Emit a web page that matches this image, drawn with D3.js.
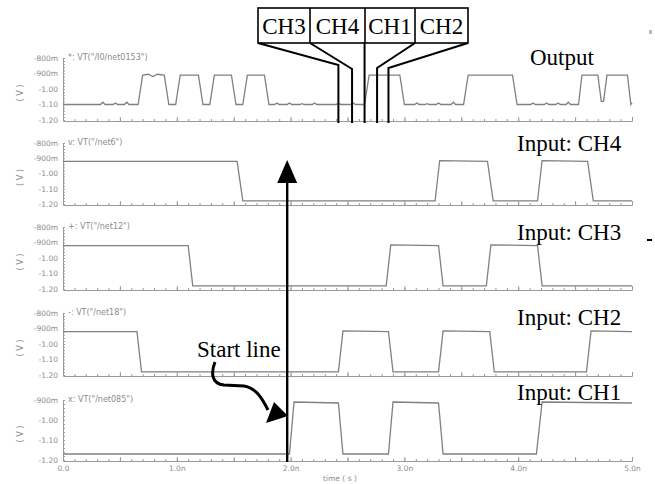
<!DOCTYPE html>
<html>
<head>
<meta charset="utf-8">
<script src="https://cdn.jsdelivr.net/npm/d3@7"></script>
<style>
  body { margin: 0; background: #fff; }
  svg { display: block; }
  .tick text { fill: #8c8c8c; font-family: "DejaVu Sans", sans-serif; font-size: 7.5px; }
  .tick line { stroke: #9a9a9a; }
  .gray { fill: #8c8c8c; font-family: "DejaVu Sans", sans-serif; font-size: 8px; }
  .note { font-family: "Liberation Serif", "Times New Roman", serif; font-size: 23px; fill: #000; }
</style>
</head>
<body>
<div id="chart"></div>
<script>
// time axis (ns) and voltage ticks
var timeTicks = [0, 1, 2, 3, 4, 5];
var timeLabels = ["0.0", "1.0n", "2.0n", "3.0n", "4.0n", "5.0n"];
var voltTicks = [-0.8, -0.9, -1.0, -1.1, -1.2];
var voltLabels = ["-800m", "-900m", "-1.00", "-1.10", "-1.20"];

var traceNames = ['*:  VT("/I0/net0153")', 'v:  VT("/net6")', '+:  VT("/net12")', '-:  VT("/net18")', 'x:  VT("/net085")'];
var traceTitles = ["Output", "Input: CH4", "Input: CH3", "Input: CH2", "Input: CH1"];

// waveforms, [time ns, volts]
var outV = [[0,-1.10],[0.33,-1.10],[0.35,-1.085],[0.37,-1.10],[0.44,-1.10],[0.46,-1.09],[0.48,-1.10],
  [0.54,-1.10],[0.56,-1.085],[0.58,-1.10],[0.66,-1.10],[0.70,-0.91],[0.75,-0.905],[0.79,-0.92],[0.83,-0.905],
  [0.89,-0.91],[0.93,-1.10],[0.99,-1.10],[1.03,-0.91],[1.19,-0.91],[1.23,-1.10],[1.29,-1.10],[1.33,-0.91],
  [1.48,-0.91],[1.52,-1.10],[1.58,-1.10],[1.62,-0.91],[1.77,-0.91],[1.81,-1.10],[1.86,-1.10],[1.88,-1.09],
  [1.90,-1.10],[1.97,-1.10],[1.99,-1.09],[2.01,-1.10],[2.08,-1.10],[2.10,-1.095],[2.12,-1.10],[2.19,-1.10],
  [2.21,-1.09],[2.23,-1.10],[2.40,-1.10],[2.42,-1.09],[2.44,-1.10],[2.53,-1.10],[2.55,-1.09],[2.57,-1.10],
  [2.65,-1.10],[2.69,-0.91],[2.96,-0.91],[3.00,-1.10],[3.09,-1.10],[3.11,-1.09],[3.13,-1.10],[3.18,-1.10],
  [3.20,-1.095],[3.22,-1.10],[3.28,-1.10],[3.30,-1.09],[3.32,-1.10],[3.41,-1.10],[3.43,-1.085],[3.45,-1.10],
  [3.52,-1.10],[3.56,-0.91],[3.95,-0.91],[3.99,-1.10],[4.11,-1.10],[4.13,-1.09],[4.15,-1.10],[4.23,-1.10],
  [4.25,-1.09],[4.27,-1.10],[4.33,-1.10],[4.35,-1.09],[4.37,-1.10],[4.42,-1.10],[4.44,-1.085],[4.46,-1.10],
  [4.53,-1.10],[4.56,-0.91],[4.70,-0.91],[4.73,-1.08],[4.75,-1.08],[4.78,-0.91],[4.96,-0.91],[4.99,-1.10],[5,-1.09]];
var ch4V = [[0,-0.92],[1.53,-0.92],[1.58,-1.18],[3.27,-1.18],[3.31,-0.915],[3.73,-0.92],[3.78,-1.18],
  [4.17,-1.18],[4.21,-0.915],[4.61,-0.92],[4.66,-1.18],[5,-1.18]];
var ch3V = [[0,-0.92],[1.10,-0.92],[1.14,-1.18],[2.84,-1.18],[2.88,-0.915],[3.30,-0.92],[3.34,-1.18],
  [3.72,-1.18],[3.76,-0.915],[4.17,-0.92],[4.21,-1.18],[5,-1.18]];
var ch2V = [[0,-0.92],[0.65,-0.92],[0.69,-1.18],[2.42,-1.18],[2.46,-0.915],[2.86,-0.92],[2.90,-1.18],
  [3.30,-1.18],[3.34,-0.915],[3.75,-0.92],[3.79,-1.18],[4.60,-1.18],[4.64,-0.915],[5,-0.92]];
var ch1V = [[0,-1.17],[1.99,-1.17],[2.03,-0.91],[2.42,-0.915],[2.46,-1.17],[2.86,-1.17],[2.90,-0.91],
  [3.30,-0.915],[3.34,-1.17],[4.16,-1.17],[4.21,-0.91],[5,-0.915]];

var traces = [outV, ch4V, ch3V, ch2V, ch1V];
var boxLabels = ["CH3", "CH4", "CH1", "CH2"];
var startTime = 1.97;

var width = 655, height = 484;
var svg = d3.select("#chart").append("svg")
    .attr("width", width)
    .attr("height", height);

var x = d3.scaleLinear().domain([0, 5]).range([63, 632]);

// pixel placement of each strip: [v top, y top, y bottom]
var strips = [
  [-0.8, 58, 120],
  [-0.8, 143, 204],
  [-0.8, 227, 289],
  [-0.8, 313, 375],
  [-0.9, 400, 460]
];

strips.forEach(function(s, i) {
    var y = d3.scaleLinear().domain([-1.2, s[0]]).range([s[2], s[1]]);
    var g = svg.append("g");

    // left axis, minor ticks
    var ax = g.append("g")
        .attr("transform", "translate(" + x(0) + ",0)")
        .call(d3.axisLeft(y).tickValues(d3.range(-1.2, s[0] + 0.001, 0.02)).tickSize(-2).tickFormat(""));
    ax.select(".domain").attr("stroke", "#9a9a9a");

    var tv = voltTicks.filter(function(v) { return v <= s[0] + 0.001; });
    var lab = g.append("g")
        .attr("transform", "translate(" + x(0) + ",0)")
        .call(d3.axisLeft(y).tickValues(tv).tickSize(0).tickPadding(5)
            .tickFormat(function(v) { return voltLabels[voltTicks.indexOf(v)]; }));
    lab.select(".domain").remove();

    // bottom axis
    var bx = g.append("g")
        .attr("transform", "translate(0," + (s[2] + 1) + ")")
        .call(d3.axisBottom(x).tickValues(d3.range(0, 5.001, 0.1)).tickSize(-2).tickFormat(""));
    bx.select(".domain").attr("stroke", "#9a9a9a");
    g.append("g")
        .attr("transform", "translate(0," + (s[2] + 1) + ")")
        .call(d3.axisBottom(x).tickValues(d3.range(0, 5.001, 0.5)).tickSize(-4).tickFormat(""))
        .select(".domain").remove();

    if (i == strips.length - 1) {
        var tl = g.append("g")
            .attr("transform", "translate(0," + (s[2] + 1) + ")")
            .call(d3.axisBottom(x).tickValues(timeTicks).tickSize(0).tickPadding(5)
                .tickFormat(function(d, k) { return timeLabels[k]; }));
        tl.select(".domain").remove();
        g.append("text").attr("class", "gray")
            .attr("x", 323).attr("y", 481)
            .style("font-size", "7.5px")
            .text("time ( s )");
    }

    // unit label
    g.append("text").attr("class", "gray")
        .attr("transform", "translate(23," + ((s[1] + s[2]) / 2 + 4) + ") rotate(-90)")
        .attr("text-anchor", "middle")
        .text("( V )");

    g.append("text").attr("class", "gray")
        .attr("x", 68).attr("y", s[1] + 2)
        .text(traceNames[i]);

    var line = d3.line()
        .x(function(d) { return x(d[0]); })
        .y(function(d) { return y(d[1]); });
    g.append("path")
        .datum(traces[i])
        .attr("fill", "none")
        .attr("stroke", "#808080")
        .attr("stroke-width", 1.3)
        .attr("d", line);

    g.append("text").attr("class", "note")
        .attr("x", i == 0 ? 530 : 517)
        .attr("y", [65, 151, 240, 325, 400][i])
        .text(traceTitles[i]);
});

// callout box
var boxEdges = [258, 310, 365, 415, 468];
var box = svg.append("g");
box.append("rect")
    .attr("x", boxEdges[0]).attr("y", 8)
    .attr("width", boxEdges[4] - boxEdges[0]).attr("height", 35)
    .attr("fill", "none").attr("stroke", "#000").attr("stroke-width", 1.6);
boxLabels.forEach(function(b, k) {
    if (k > 0) {
        box.append("line")
            .attr("x1", boxEdges[k]).attr("x2", boxEdges[k])
            .attr("y1", 8).attr("y2", 43)
            .attr("stroke", "#000").attr("stroke-width", 1.6);
    }
    box.append("text").attr("class", "note")
        .attr("x", (boxEdges[k] + boxEdges[k + 1]) / 2).attr("y", 34)
        .attr("text-anchor", "middle")
        .text(b);
});

// leader lines from the box down to the output trace
var leadTimes = [2.42, 2.54, 2.65, 2.76, 2.86];
var leadY = [65, 69, 43, 68, 68];
leadTimes.forEach(function(t, k) {
    box.append("polyline")
        .attr("points", boxEdges[k] + ",43 " + x(t) + "," + leadY[k] + " " + x(t) + ",123")
        .attr("fill", "none").attr("stroke", "#000").attr("stroke-width", 2);
});

// start line arrow
var sx = x(startTime);
svg.append("line")
    .attr("x1", sx).attr("x2", sx).attr("y1", 180).attr("y2", 462)
    .attr("stroke", "#000").attr("stroke-width", 2.4);
svg.append("path")
    .attr("d", "M" + sx + ",160 L" + (sx - 10) + ",183 L" + (sx + 10) + ",183 Z")
    .attr("fill", "#000");

svg.append("text").attr("class", "note")
    .attr("x", 197).attr("y", 357)
    .text("Start line");
svg.append("path")
    .attr("d", "M215,362 C211,372 211,384 224,385 L244,386 C256,388 262,398 268,410")
    .attr("fill", "none").attr("stroke", "#000").attr("stroke-width", 3);
svg.append("path")
    .attr("d", "M288,416 L266,423 L274,402 Z")
    .attr("fill", "#000");

// scan specks at right edge
svg.append("rect").attr("x", 647).attr("y", 239).attr("width", 5).attr("height", 2).attr("fill", "#000");
svg.append("rect").attr("x", 649).attr("y", 30).attr("width", 3).attr("height", 4).attr("fill", "#bbb");
</script>
</body>
</html>
